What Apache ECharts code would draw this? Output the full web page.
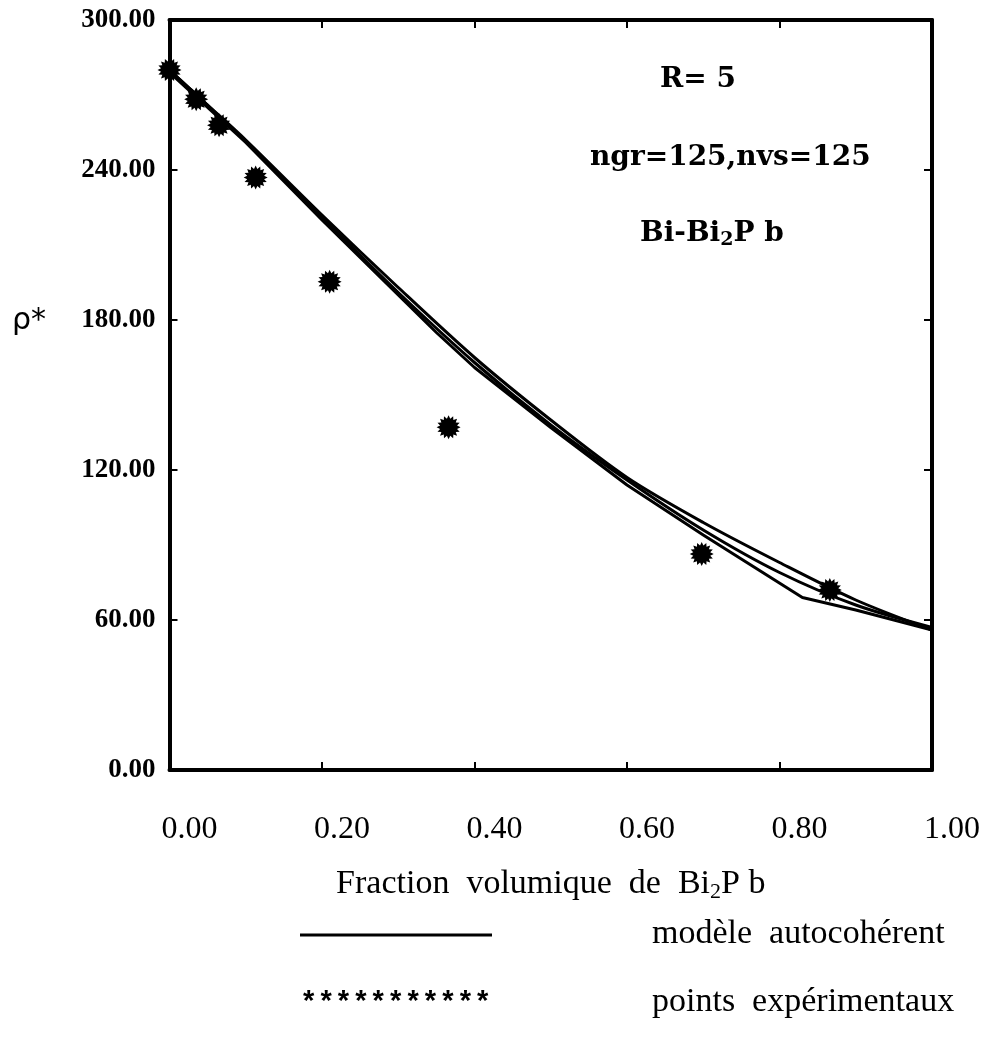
<!DOCTYPE html>
<html><head><meta charset="utf-8">
<script src="https://cdn.jsdelivr.net/npm/echarts@6/dist/echarts.min.js"></script>
<style>html,body{margin:0;padding:0;background:#fff}#c{width:998px;height:1050px}</style>
</head><body><div id="c"></div>
<script>
// ---- data ----
const xTickValues = [0, 0.2, 0.4, 0.6, 0.8, 1.0];
const yTickValues = [0, 60, 120, 180, 240, 300];

const modelAx = [0, 0.05, 0.1, 0.2, 0.3, 0.4, 0.5, 0.6, 0.7, 0.8, 0.9, 1.0];
const modelAy = [280, 266, 252, 222, 193, 165, 140, 117, 99, 83, 68, 56];

const modelBx = [0, 0.1, 0.2, 0.35, 0.4, 0.5, 0.6, 0.7, 0.83, 0.9, 1.0];
const modelBy = [279, 251, 220, 175, 161, 137, 114, 94, 69, 64, 56];

const modelCx = [0, 0.1, 0.2, 0.3, 0.4, 0.5, 0.6, 0.7, 0.8, 0.9, 1.0];
const modelCy = [280, 251.5, 221, 191, 163, 138, 116, 96, 79, 66, 57];

const expX = [0.0, 0.035, 0.065, 0.113, 0.21, 0.366, 0.698, 0.866];
const expY = [280, 268.3, 257.9, 237, 195.3, 137.1, 86.4, 72];

const annotations = ['R= 5', 'ngr=125,nvs=125', 'Bi-Bi{s|2}P b'];
const legendLabels = ['modèle  autocohérent', 'points  expérimentaux'];

// ---- star symbol path (shape only) ----
function starPath(n, ro, ri) {
  let d = '';
  for (let i = 0; i < 2 * n; i++) {
    const r = i % 2 === 0 ? ro : ri;
    const a = Math.PI * i / n;
    const px = (50 + r * Math.cos(a)).toFixed(2), py = (50 + r * Math.sin(a)).toFixed(2);
    d += (i === 0 ? 'M' : 'L') + px + ' ' + py + ' ';
  }
  return 'path://' + d + 'Z';
}
const zip = (xs, ys) => xs.map((x, i) => [x, ys[i]]);

const chart = echarts.init(document.getElementById('c'));
const lineStyle = { color: '#000', width: 3 };
const axisLine = { show: true, onZero: false, lineStyle: { color: '#000', width: 4 } };
const tick = { show: true, inside: true, length: 8, lineStyle: { color: '#000', width: 2 } };

chart.setOption({
  backgroundColor: '#fff',
  animation: false,
  grid: { left: 169.5, right: 66, top: 20, bottom: 280, containLabel: false },
  xAxis: [{
    type: 'value', min: 0, max: 1, interval: 0.2, position: 'bottom',
    axisLine, axisTick: tick, splitLine: { show: false },
    axisLabel: { margin: 44, color: '#000', fontFamily: 'Liberation Serif', fontSize: 32,
      padding: [0, 0, 0, 40], formatter: v => v.toFixed(2) },
    name: 'Fraction  volumique  de  Bi{s|2}P b', nameLocation: 'middle', nameGap: 96,
    nameTextStyle: { color: '#000', fontFamily: 'Liberation Serif', fontSize: 34,
      rich: { s: { fontFamily: 'Liberation Serif', fontSize: 22, verticalAlign: 'bottom', padding: [15, 0, 0, 0] } } }
  }, {
    type: 'value', min: 0, max: 1, interval: 0.2, position: 'top',
    axisLine, axisTick: tick, axisLabel: { show: false }, splitLine: { show: false }
  }],
  yAxis: [{
    type: 'value', min: 0, max: 300, interval: 60, position: 'left',
    axisLine, axisTick: tick, splitLine: { show: false },
    axisLabel: { margin: 14, color: '#000', fontFamily: 'Liberation Serif', fontWeight: 'bold', fontSize: 27,
      formatter: v => v.toFixed(2) }
  }, {
    type: 'value', min: 0, max: 300, interval: 60, position: 'right',
    axisLine, axisTick: tick, axisLabel: { show: false }, splitLine: { show: false }
  }],
  series: [
    { type: 'line', data: zip(modelAx, modelAy), smooth: 0.3, showSymbol: false, lineStyle, z: 2 },
    { type: 'line', data: zip(modelBx, modelBy), smooth: false, showSymbol: false, lineStyle, z: 2 },
    { type: 'line', data: zip(modelCx, modelCy), smooth: 0.3, showSymbol: false, lineStyle, z: 2 },
    { type: 'scatter', data: zip(expX, expY), symbol: starPath(16, 50, 36), symbolSize: 24,
      itemStyle: { color: '#000', opacity: 1 }, z: 3 }
  ],
  graphic: [
    { type: 'text', left: 12, top: 306, style: { text: 'ρ*', font: '30px "DejaVu Sans"', fill: '#000' } },
    { type: 'text', left: 660, top: 66, style: { text: annotations[0], font: 'bold 28px "DejaVu Serif"', fill: '#000' } },
    { type: 'text', left: 590, top: 144, style: { text: annotations[1], font: 'bold 28px "DejaVu Serif"', fill: '#000' } },
    { type: 'text', left: 640, top: 220, style: { text: annotations[2], font: 'bold 28px "DejaVu Serif"', fill: '#000',
      rich: { s: { font: 'bold 19px "DejaVu Serif"', padding: [12, 0, 0, 0] } } } },
    { type: 'line', shape: { x1: 300, y1: 935, x2: 492, y2: 935 }, style: { stroke: '#000', lineWidth: 3 } },
    { type: 'text', left: 652, top: 917, style: { text: legendLabels[0], font: '34px "Liberation Serif"', fill: '#000' } },
    { type: 'text', left: 300, top: 990, style: { text: '***********', font: 'bold 29px "Liberation Mono"', fill: '#000' } },
    { type: 'text', left: 652, top: 985, style: { text: legendLabels[1], font: '34px "Liberation Serif"', fill: '#000' } }
  ]
});
</script></body></html>
